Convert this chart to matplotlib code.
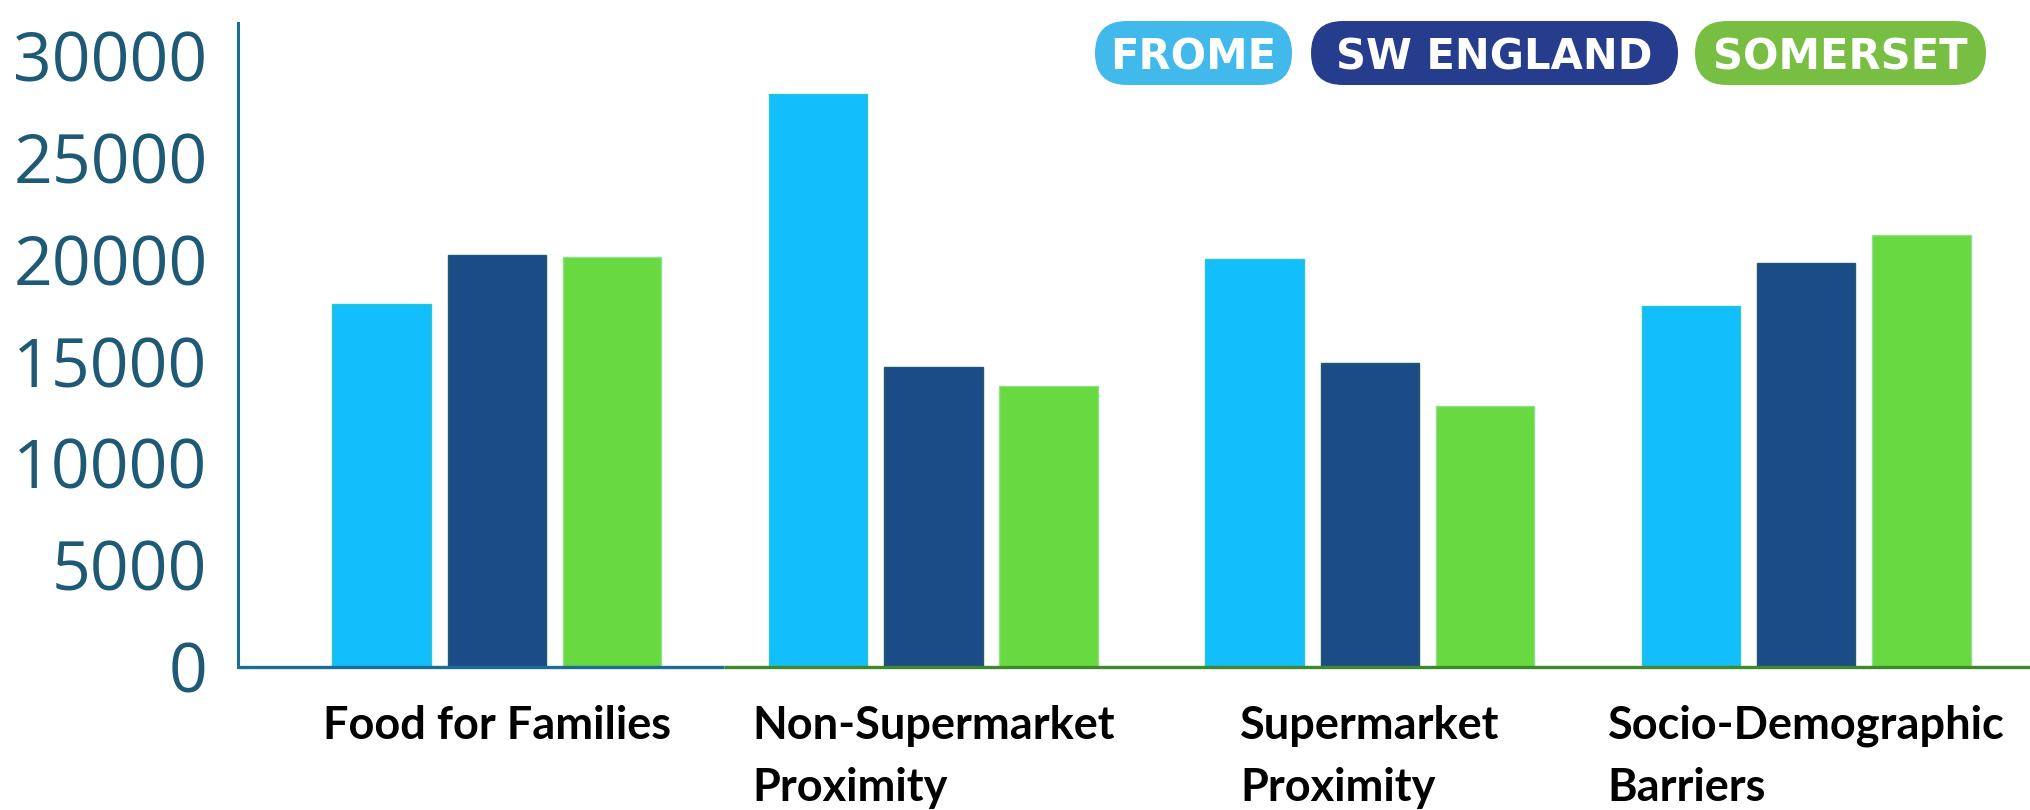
import matplotlib
matplotlib.use("Agg")
import matplotlib.pyplot as plt
from matplotlib.patches import FancyBboxPatch
import numpy as np

# ----- data -----
CATEGORIES = ["Food for Families", "Non-Supermarket\nProximity",
              "Supermarket\nProximity", "Socio-Demographic\nBarriers"]
SERIES = ["FROME", "SW ENGLAND", "SOMERSET"]
FROME = [17800, 28100, 20000, 17700]
SW_ENGLAND = [20200, 14700, 14900, 19800]
SOMERSET = [20100, 13800, 12800, 21200]
Y_TICKS = [0, 5000, 10000, 15000, 20000, 25000, 30000]

# ----- palette -----
BAR_COLORS = ["#12BEFB", "#1C4C87", "#68D941"]
BAR_EDGES = ["#2CC6C8", "#1F5A6A", "#8FE08A"]
PILL_COLORS = ["#41B9EA", "#253D8C", "#78BE43"]
AXIS_BLUE = "#1A6E96"
AXIS_GREEN = "#3C8A2C"
TICK_COLOR = "#1E5A75"

fig = plt.figure(figsize=(20.3, 8.1), dpi=100)
ax = fig.add_axes([0.1173, 0.1765, 1 - 0.1173, 0.9716 - 0.1765])

x = np.arange(len(CATEGORIES))
pitch = 0.264
width = 0.2255
for i, vals in enumerate([FROME, SW_ENGLAND, SOMERSET]):
    ax.bar(x + (i - 1) * pitch, vals, width, color=BAR_COLORS[i],
           edgecolor=BAR_EDGES[i], linewidth=1.0, zorder=2)

x_lo, x_hi = -0.593, 3.513
ax.set_xlim(x_lo, x_hi)
ax.set_ylim(0, 31600)

for s in ["top", "right", "bottom"]:
    ax.spines[s].set_visible(False)
ax.spines["left"].set_color(AXIS_BLUE)
ax.spines["left"].set_linewidth(2.2)

# two-tone baseline
ax.plot([x_lo, 0.52], [0, 0], color=AXIS_BLUE, lw=2.4, clip_on=False,
        solid_capstyle="butt", zorder=3)
ax.plot([0.52, x_hi], [0, 0], color=AXIS_GREEN, lw=2.4, clip_on=False,
        solid_capstyle="butt", zorder=3)

ax.set_yticks(Y_TICKS)
ax.set_yticklabels([str(v) for v in Y_TICKS], fontfamily="Open Sans",
                   fontsize=49, color=TICK_COLOR)
ax.tick_params(axis="y", length=0, pad=22)

ax.set_xticks(x)
ax.set_xticklabels(CATEGORIES, fontfamily="Lato", fontweight="bold",
                   fontsize=32.5, color="black", linespacing=1.6)
for lbl in ax.get_xticklabels():
    lbl.set_multialignment("left")
ax.tick_params(axis="x", length=0, pad=27)

# ----- pill legend (pixel layout converted to inches) -----
pills = [(1095, 1292), (1311, 1678), (1695, 1986)]
top_px, bot_px = 21, 85
for (x0, x1), name, col in zip(pills, SERIES, PILL_COLORS):
    h = (bot_px - top_px) / 100
    patch = FancyBboxPatch((x0 / 100, (810 - bot_px) / 100), (x1 - x0) / 100, h,
                           boxstyle=f"round,pad=0,rounding_size={h / 2}",
                           transform=fig.dpi_scale_trans, facecolor=col,
                           edgecolor="none", zorder=5)
    fig.patches.append(patch)
    fig.text((x0 + x1) / 2 / 2030, 1 - (top_px + bot_px) / 2 / 810, name,
             ha="center", va="center_baseline", color="white",
             fontfamily="DejaVu Sans", fontweight="bold", fontsize=30, zorder=6)

fig.savefig("out.png", dpi=100, facecolor="white")
